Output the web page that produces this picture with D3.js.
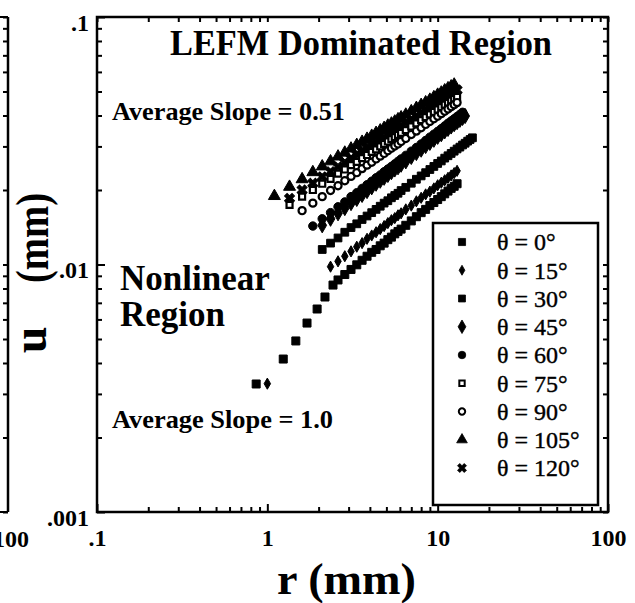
<!DOCTYPE html>
<html>
<head>
<meta charset="utf-8">
<script src="https://cdn.jsdelivr.net/npm/d3@7"></script>
<style>
  body { margin: 0; background: #fff; }
</style>
</head>
<body>
<div id="chart"></div>
<script>
const WIDTH = 635;
const HEIGHT = 603;

// r grid (mm) shared by the measured series
const R = [0.85, 1.1, 1.35, 1.6, 1.85, 2.1, 2.35, 2.6, 2.85, 3.1, 3.35, 3.6, 3.85, 4.1, 4.35, 4.6, 4.85,
           5.1, 5.35, 5.6, 5.85, 6.1, 6.5, 7.0, 7.5, 8.0, 8.5, 9.0, 9.5, 10.0, 10.5, 11.0, 11.5, 12.0,
           12.5, 13.0, 13.5, 14.0, 14.5, 15.0, 15.5, 16.0];

const thetas = [0, 15, 30, 45, 60, 75, 90, 105, 120];
const legendLabels = ["θ = 0°", "θ = 15°", "θ = 30°", "θ = 45°", "θ = 60°", "θ = 75°", "θ = 90°", "θ = 105°", "θ = 120°"];
// index into R of the first value of every series
const firstIndex = [7, 6, 5, 5, 4, 2, 3, 1, 2];

// u (mm)
const u0 = [.00866, .00911, .00955, .00997, .0104, .0108, .0112, .0115, .0119, .0122, .0126, .0129, .0133, .0136, .0139,
            .0144, .0150, .0156, .0162, .0167, .0173, .0178, .0183, .0188, .0193, .0198, .0203, .0207, .0212];
const u15 = [.0098, .0103, .0108, .0113, .0118, .0122, .0127, .0131, .0135, .0139, .0143, .0147, .0151, .0154, .0158, .0161,
             .0167, .0173, .0180, .0186, .0192, .0197, .0203, .0209, .0214, .0219, .0224, .0229, .0234, .0239];
const u30 = [.0115, .0122, .0128, .0135, .0141, .0146, .0152, .0157, .0162, .0167, .0172, .0177, .0181, .0186, .0190, .0194, .0199,
             .0205, .0213, .0221, .0228, .0235, .0242, .0249, .0256, .0262, .0269, .0275, .0281, .0287, .0293, .0298,
             .0304, .0309, .0315, .0320, .0325];
const u45 = [.0144, .0153, .0161, .0169, .0177, .0184, .0191, .0198, .0205, .0212, .0218, .0224, .0230, .0236, .0242, .0247, .0253,
             .0261, .0272, .0282, .0291, .0301, .0310, .0319, .0328, .0336, .0345, .0353, .0361, .0369, .0376, .0384,
             .0391, .0398];
const u60 = [.0143, .0153, .0162, .0171, .0179, .0188, .0195, .0203, .0210, .0217, .0224, .0230, .0237, .0243, .0249, .0255,
             .0261, .0267, .0276, .0287, .0297, .0307, .0317, .0327, .0336, .0345, .0354, .0363, .0372, .0380, .0388,
             .0396, .0404, .0412];
const u75 = [.0174, .0188, .0200, .0212, .0222, .0233, .0242, .0252, .0260, .0269, .0277, .0285, .0292, .0300, .0307, .0314,
             .0321, .0327, .0334, .0340, .0349, .0361, .0372, .0383, .0394, .0404, .0414, .0423, .0432, .0442, .0450,
             .0459, .0467, .0476];
const u90 = [.0165, .0177, .0188, .0199, .0208, .0218, .0227, .0235, .0244, .0252, .0259, .0267, .0274, .0281, .0288, .0295,
             .0301, .0307, .0314, .0323, .0335, .0346, .0357, .0368, .0378, .0388, .0397, .0407, .0416, .0425, .0434,
             .0442, .0451];
const u105 = [.0189, .0206, .0221, .0236, .0249, .0261, .0273, .0283, .0294, .0304, .0313, .0322, .0331, .0340, .0348, .0356,
              .0364, .0371, .0378, .0386, .0393, .0403, .0416, .0429, .0441, .0452, .0463, .0474, .0485, .0495, .0505,
              .0515, .0524, .0533];
const u120 = [.0185, .0200, .0213, .0226, .0237, .0248, .0258, .0268, .0278, .0287, .0295, .0304, .0312, .0320, .0327, .0335,
              .0342, .0349, .0356, .0362, .0373, .0385, .0397, .0409, .0420, .0431, .0441, .0451, .0461, .0471, .0480,
              .0490, .0499, .0507];

// points near the crack tip (nonlinear region)
const tipR0 = [0.86, 1.24, 1.47, 1.71, 1.96, 2.18, 2.43];
const tipU0 = [0.00329, 0.00415, 0.00491, 0.00580, 0.00661, 0.00739, 0.00826];
const tipR15 = [1.0];
const tipU15 = [0.0033];

const majorX = [0.1, 1, 10, 100];
const majorY = [0.001, 0.01, 0.1];
const xTickText = [".1", "1", "10", "100"];
const yTickText = [".001", ".01", ".1"];

const uSeries = [u0, u15, u30, u45, u60, u75, u90, u105, u120];

const series = thetas.map((t, i) => {
    var pts = uSeries[i].map((u, j) => ({ r: R[firstIndex[i] + j], u: u }));
    if (t === 0) pts = tipR0.map((r, j) => ({ r: r, u: tipU0[j] })).concat(pts);
    if (t === 15) pts = tipR15.map((r, j) => ({ r: r, u: tipU15[j] })).concat(pts);
    return { theta: t, label: legendLabels[i], points: pts };
});

// marker looks, same order as thetas
const markers = [
    { type: d3.symbolSquare,   size: 64, fill: "#000", rot: 0 },
    { type: d3.symbolDiamond,  size: 36, fill: "#000", rot: 0 },
    { type: d3.symbolSquare,   size: 60, fill: "#000", rot: 0 },
    { type: d3.symbolDiamond,  size: 66, fill: "#000", rot: 0 },
    { type: d3.symbolCircle,   size: 56, fill: "#000", rot: 0 },
    { type: d3.symbolSquare,   size: 36, fill: "#fff", rot: 0 },
    { type: d3.symbolCircle,   size: 40, fill: "#fff", rot: 0 },
    { type: d3.symbolTriangle, size: 62, fill: "#000", rot: 0 },
    { type: d3.symbolCross,    size: 62, fill: "#000", rot: 45 }
];

const svg = d3.select("#chart")
    .append("svg")
    .attr("width", WIDTH)
    .attr("height", HEIGHT)
    .style("font-family", "'Liberation Serif', 'Times New Roman', serif");

const x = d3.scaleLog().domain([0.1, 100]).range([97, 608]);
const y = d3.scaleLog().domain([0.001, 0.1]).range([512, 17]);

const minorX = [0.1, 1, 10].flatMap(d => d3.range(2, 10).map(k => k * d));
const minorY = [0.001, 0.01].flatMap(d => d3.range(2, 10).map(k => k * d));

function styleAxis(g) {
    g.select(".domain").remove();
    g.selectAll("line").attr("stroke", "#000").attr("stroke-width", 2);
    g.attr("font-family", "'Liberation Serif', 'Times New Roman', serif")
     .attr("font-size", 24)
     .attr("font-weight", "bold");
    g.selectAll("text").attr("fill", "#000");
}

// bottom
svg.append("g").attr("transform", "translate(0,512)")
    .call(d3.axisBottom(x).tickValues(minorX).tickSizeInner(-5).tickSizeOuter(0).tickFormat(""))
    .call(styleAxis);
svg.append("g").attr("transform", "translate(0,512)")
    .call(d3.axisBottom(x).tickValues(majorX).tickSizeInner(-8).tickSizeOuter(0).tickPadding(17)
        .tickFormat((d, i) => xTickText[i]))
    .call(styleAxis);

// top
svg.append("g").attr("transform", "translate(0,17)")
    .call(d3.axisTop(x).tickValues(minorX.concat(majorX)).tickSizeInner(-5).tickSizeOuter(0).tickFormat(""))
    .call(styleAxis);

// left
svg.append("g").attr("transform", "translate(97,0)")
    .call(d3.axisLeft(y).tickValues(minorY).tickSizeInner(-5).tickSizeOuter(0).tickFormat(""))
    .call(styleAxis);
svg.append("g").attr("transform", "translate(97,0)")
    .call(d3.axisLeft(y).tickValues(majorY).tickSizeInner(-8).tickSizeOuter(0).tickPadding(8)
        .tickFormat((d, i) => yTickText[i]))
    .call(styleAxis)
    .call(g => g.selectAll("text").attr("dy", "0.55em"));

// right
svg.append("g").attr("transform", "translate(608,0)")
    .call(d3.axisRight(y).tickValues(minorY.concat(majorY)).tickSizeInner(-5).tickSizeOuter(0).tickFormat(""))
    .call(styleAxis);

// frame
svg.append("rect")
    .attr("x", x(0.1)).attr("y", y(0.1))
    .attr("width", x(100) - x(0.1)).attr("height", y(0.001) - y(0.1))
    .attr("fill", "none").attr("stroke", "#000").attr("stroke-width", 2.5);

// edge of the neighbouring panel on the left
const edge = svg.append("g").attr("transform", "translate(8,0)");
edge.call(d3.axisRight(y).tickValues(minorY.concat(majorY)).tickSizeInner(-5).tickSizeOuter(0).tickFormat(""))
    .call(styleAxis);
edge.append("line").attr("x1", 0).attr("x2", 0).attr("y1", y(0.1)).attr("y2", y(0.001))
    .attr("stroke", "#000").attr("stroke-width", 2.5);
edge.append("line").attr("x1", -8).attr("x2", 0).attr("y1", y(0.1)).attr("y2", y(0.1))
    .attr("stroke", "#000").attr("stroke-width", 2);
edge.append("line").attr("x1", -8).attr("x2", 0).attr("y1", y(0.001)).attr("y2", y(0.001))
    .attr("stroke", "#000").attr("stroke-width", 2);
svg.append("text").attr("x", 29).attr("y", 547).attr("text-anchor", "end")
    .attr("font-size", 24).attr("font-weight", "bold").text("100");

// data
const drawOrder = [0, 1, 2, 3, 4, 7, 8, 5, 6];
drawOrder.forEach(i => {
    const m = markers[i];
    const sym = d3.symbol().type(m.type).size(m.size);
    svg.append("g").attr("class", "series")
        .selectAll("path").data(series[i].points)
        .enter().append("path")
        .attr("d", sym)
        .attr("transform", d => `translate(${x(d.r)},${y(d.u)}) rotate(${m.rot})`)
        .attr("fill", m.fill)
        .attr("stroke", "#000")
        .attr("stroke-width", m.fill === "#fff" ? 2.2 : 1);
});

// texts in the plot
svg.append("text").attr("x", 170).attr("y", 55)
    .attr("font-size", 35).attr("font-weight", "bold")
    .attr("textLength", 382).attr("lengthAdjust", "spacingAndGlyphs")
    .text("LEFM Dominated Region");
svg.append("text").attr("x", 112).attr("y", 120)
    .attr("font-size", 25).attr("font-weight", "bold")
    .attr("textLength", 233).attr("lengthAdjust", "spacingAndGlyphs")
    .text("Average Slope = 0.51");
svg.append("text").attr("x", 120).attr("y", 290)
    .attr("font-size", 35).attr("font-weight", "bold")
    .text("Nonlinear");
svg.append("text").attr("x", 120).attr("y", 326)
    .attr("font-size", 35).attr("font-weight", "bold")
    .text("Region");
svg.append("text").attr("x", 112).attr("y", 428)
    .attr("font-size", 25).attr("font-weight", "bold")
    .attr("textLength", 221).attr("lengthAdjust", "spacingAndGlyphs")
    .text("Average Slope = 1.0");

// axis titles
svg.append("text").attr("x", 277).attr("y", 594)
    .attr("font-size", 45).attr("font-weight", "bold")
    .attr("textLength", 139).attr("lengthAdjust", "spacingAndGlyphs")
    .text("r (mm)");
svg.append("text").attr("transform", "translate(46,340) rotate(-90)")
    .attr("text-anchor", "middle")
    .attr("font-size", 48).attr("font-weight", "bold")
    .text("u");
svg.append("text").attr("transform", "translate(48,238) rotate(-90)")
    .attr("text-anchor", "middle")
    .attr("font-size", 46).attr("font-weight", "bold")
    .attr("textLength", 90).attr("lengthAdjust", "spacingAndGlyphs")
    .text("(mm)");

// legend
const legend = svg.append("g").attr("class", "legend");
legend.append("rect")
    .attr("x", 433).attr("y", 223).attr("width", 165).attr("height", 282)
    .attr("fill", "#fff").attr("stroke", "#000").attr("stroke-width", 2.5);

const legendRow = d3.scalePoint().domain(thetas).range([242, 468]);

legend.selectAll("path").data(series)
    .enter().append("path")
    .attr("d", (d, i) => d3.symbol().type(markers[i].type).size(markers[i].size * 0.8)())
    .attr("transform", (d, i) => `translate(462,${legendRow(d.theta)}) rotate(${markers[i].rot})`)
    .attr("fill", (d, i) => markers[i].fill)
    .attr("stroke", "#000")
    .attr("stroke-width", (d, i) => markers[i].fill === "#fff" ? 2 : 0.8);

legend.selectAll("text").data(series)
    .enter().append("text")
    .attr("x", 497)
    .attr("y", d => legendRow(d.theta))
    .attr("dy", "0.35em")
    .attr("font-size", 24)
    .attr("stroke", "#000")
    .attr("stroke-width", 0.4)
    .text(d => d.label);
</script>
</body>
</html>
